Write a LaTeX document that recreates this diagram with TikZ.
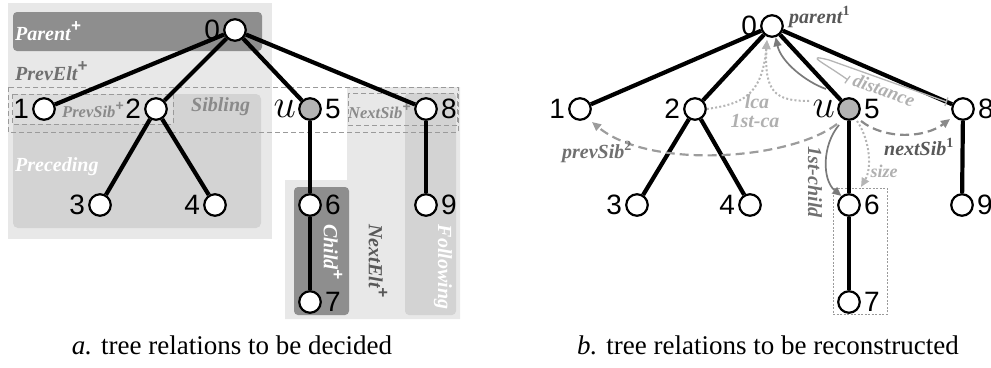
\RequirePackage{fix-cm}
\documentclass[tikz,border=0pt]{standalone}
\usepackage{fontspec}
\setmainfont{Liberation Serif}
\newfontfamily\numfont{Liberation Sans}
\usetikzlibrary{arrows.meta}

\definecolor{regLight}{HTML}{E8E8E8}
\definecolor{regMid}{HTML}{D3D3D3}
\definecolor{regPale}{HTML}{DCDCDC}
\definecolor{regDark}{HTML}{8E8E8E}
\definecolor{boxDash}{HTML}{9A9A9A}
\definecolor{txtGray}{HTML}{8A8A8A}
\definecolor{txtMid}{HTML}{707070}
\definecolor{txtDark}{HTML}{585858}
\definecolor{txtLight}{HTML}{B0B0B0}
\definecolor{arrMid}{HTML}{7A7A7A}
\definecolor{arrLight}{HTML}{B5B5B5}
\definecolor{arrDash}{HTML}{9C9C9C}
\definecolor{arrDashDark}{HTML}{8A8A8A}
\definecolor{uFill}{HTML}{B4B4B4}

% raised heavy plus used for the transitive relation names
\newcommand{\relplus}[1]{\raisebox{0.42em}{\numfont\bfseries\fontsize{#1}{#1}\selectfont +}}

\begin{document}
\begin{tikzpicture}[x=1pt,y=-1pt,
  tnode/.style={circle,draw=black,line width=2.2pt,fill=white,minimum size=21.5pt,inner sep=0pt},
  unode/.style={tnode,fill=uFill},
  tedge/.style={line width=4.2pt,draw=black},
  num/.style={font=\numfont\fontsize{28}{28}\selectfont,inner sep=1pt,label distance=2pt},
  ulab/.style={font=\fontsize{40}{40}\selectfont,inner sep=1pt,label distance=1pt},
  rel/.style={font=\fontsize{20}{20}\selectfont\bfseries\itshape,inner sep=0pt},
  relsmall/.style={font=\fontsize{16.5}{16.5}\selectfont\bfseries\itshape,inner sep=0pt},
  dashbox/.style={draw=boxDash,line width=1pt,dash pattern=on 5pt off 3pt},
  tipA/.style={-{Triangle[length=9pt,width=8pt]}},
  solidarr/.style={tipA,draw=arrMid,line width=1.7pt},
  dotarr/.style={tipA,draw=arrLight,line width=2pt,dash pattern=on 2pt off 2.2pt},
  dasharr/.style={tipA,draw=arrDash,line width=2.2pt,dash pattern=on 9pt off 5pt},
  caption/.style={font=\fontsize{27}{27}\selectfont,inner sep=0pt,anchor=base}
]
\useasboundingbox (0,0) rectangle (991,367);

% ---------- a: shaded relation regions ----------
\fill[regLight] (8,3) rectangle (272,239);
\fill[regDark,rounded corners=4pt] (13,12) rectangle (262,51);
\fill[regMid,rounded corners=5pt] (13,94) rectangle (261,228);
\fill[regPale] (13,94) rectangle (173,124);
\fill[regLight] (347,87) -- (460,87) -- (460,319) -- (285,319) -- (285,180) -- (347,180) -- cycle;
\fill[regMid,rounded corners=4pt] (405,93) rectangle (456,315);
\fill[regDark,rounded corners=4pt] (294,187) rectangle (349,315);

\draw[dashbox] (8,87) rectangle (458,132);
\draw[dashbox] (12,94) rectangle (173,124);
\draw[dashbox] (348,93) rectangle (457,125);

\node[rel,white,anchor=west] (tParent) at (15,31) {Parent\relplus{17}};
\node[rel,txtMid,anchor=west] (tPrevElt) at (15,71) {PrevElt\relplus{17}};
\node[relsmall,txtGray,anchor=west] (tPrevSib) at (62,110) {PrevSib\relplus{14}};
\node[rel,txtGray,anchor=west] (tSibling) at (191,107) {Sibling};
\node[relsmall,txtGray,anchor=west] (tNextSib) at (348,111) {NextSib\relplus{14}};
\node[rel,white,anchor=west] (tPreceding) at (15,167) {Preceding};
\node[rel,white,rotate=-90] (tChild) at (333,252) {Child\relplus{17}};
\node[rel,txtDark,rotate=-90] (tNextElt) at (378,261) {NextElt\relplus{17}};
\node[rel,white,rotate=-90] (tFollowing) at (443,267) {Following};

% ---------- a: tree ----------
\node[tnode,label={[num]left:0}] (a0) at (235,30) {};
\node[tnode,label={[num]left:1}] (a1) at (44,109) {};
\node[tnode,label={[num]left:2}] (a2) at (156,109) {};
\node[unode,label={[ulab]left:$u$},label={[num]right:5}] (a5) at (310,109) {};
\node[tnode,label={[num]right:8}] (a8) at (426,109) {};
\node[tnode,label={[num]left:3}] (a3) at (100,205) {};
\node[tnode,label={[num]left:4}] (a4) at (215,205) {};
\node[tnode,label={[num]right:6}] (a6) at (310,205) {};
\node[tnode,label={[num]right:7}] (a7) at (310,302) {};
\node[tnode,label={[num]right:9}] (a9) at (426,205) {};
\foreach \p/\c in {a0/a1,a0/a2,a0/a5,a0/a8,a2/a3,a2/a4,a5/a6,a6/a7,a8/a9}
  \draw[tedge] (\p) -- (\c);

% ---------- b: subtree box ----------
\draw[draw=boxDash,line width=0.9pt,dash pattern=on 2pt off 1.5pt] (833,188) rectangle (887,314);

% ---------- b: tree ----------
\node[tnode,label={[num]left:0}] (b0) at (772,26) {};
\node[tnode,label={[num]left:1}] (b1) at (580,109) {};
\node[tnode,label={[num]left:2}] (b2) at (695,109) {};
\node[unode,label={[ulab]left:$u$},label={[num]right:5}] (b5) at (849,109) {};
\node[tnode,label={[num]right:8}] (b8) at (963,109) {};
\node[tnode,label={[num]left:3}] (b3) at (637,205) {};
\node[tnode,label={[num]left:4}] (b4) at (750,205) {};
\node[tnode,label={[num]right:6}] (b6) at (849,205) {};
\node[tnode,label={[num]right:7}] (b7) at (849,302) {};
\node[tnode,label={[num]right:9}] (b9) at (962,205) {};
\foreach \p/\c in {b0/b1,b0/b2,b0/b5,b0/b8,b2/b3,b2/b4,b5/b6,b6/b7,b8/b9}
  \draw[tedge] (\p) -- (\c);

% ---------- b: reconstructed relations ----------
\coordinate (uUp) at (826,89);
\coordinate (lcaTip) at (767,40);
\coordinate (uLeft) at (809,101);
\coordinate (dA) at (848,80);
\coordinate (dB) at (947,102);
\coordinate (uLow) at (837,124);
\coordinate (uRight) at (861,121);
\coordinate (uDown) at (839,125);
\coordinate (uSize) at (857,121);
\coordinate (prevEnd) at (592,122);
\coordinate (nextEnd) at (950,119);
\coordinate (sizeEnd) at (861,187);

\draw[solidarr] (uUp) .. controls (806,82) and (781,62) .. (b0.-72);
\draw[dotarr] (b2.east) .. controls (742,104) and (762,96) .. (lcaTip);
\draw[dotarr] (uLeft) .. controls (775,101) and (764,92) .. (lcaTip);
\draw[draw=arrLight,line width=1.3pt,{Bar[width=9pt]}-{Bar[width=9pt]}]
  (dA) .. controls (826,64) and (802,53) .. (829,60) -- (dB);
\draw[dasharr] (uLow) .. controls (790,160) and (650,170) .. (prevEnd);
\draw[dasharr,draw=arrDashDark] (uRight) .. controls (885,140) and (925,138) .. (nextEnd);
\draw[solidarr] (uDown) .. controls (822,145) and (822,180) .. (b6.130);
\draw[dotarr] (uSize) .. controls (870,140) and (872,168) .. (sizeEnd);

\node[rel,txtDark,anchor=west] (lParent) at (789,17) {parent\textsuperscript{\upshape 1}};
\node[rel,txtLight] (lLca) at (757,102) {lca};
\node[rel,txtLight] (lFirstCa) at (755,121) {1st-ca};
\node[font=\fontsize{19}{19}\selectfont\bfseries\itshape,inner sep=0pt,txtLight,rotate=-20] (lDist) at (884,90) {distance};
\node[rel,txtMid] (lPrev) at (597,152) {prevSib\textsuperscript{\upshape 2}};
\node[rel,txtDark] (lNext) at (919,147) {nextSib\textsuperscript{\upshape 1}};
\node[rel,txtMid,rotate=-90] (lChild) at (815,182) {1st-child};
\node[font=\fontsize{18}{18}\selectfont\bfseries\itshape,inner sep=0pt,txtLight] (lSize) at (884,171) {size};

% ---------- captions ----------
\node[caption] (capA) at (232,354) {\textit{a.} tree relations to be decided};
\node[caption] (capB) at (768,354) {\textit{b.} tree relations to be reconstructed};
\end{tikzpicture}
\end{document}
